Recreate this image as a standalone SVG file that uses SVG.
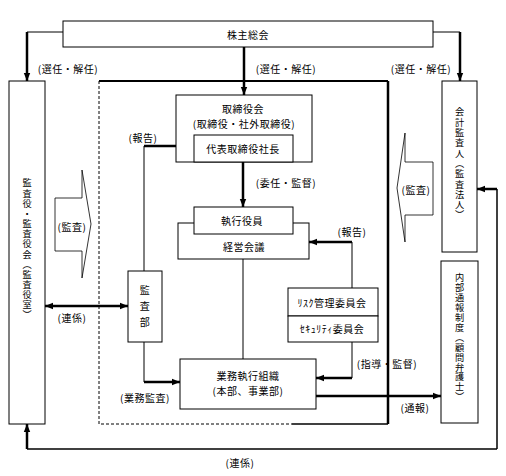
<svg xmlns="http://www.w3.org/2000/svg" width="506" height="476" viewBox="0 0 506 476">
<style>
text{font-family:"Noto Sans CJK JP","Noto Sans CJK SC",sans-serif;font-size:10px;fill:#000;text-anchor:middle;dominant-baseline:central;letter-spacing:0.5px}
.v{writing-mode:vertical-rl;text-orientation:upright;text-anchor:start;font-size:9.2px}
.box{fill:#fff;stroke:#000;stroke-width:1}
.thin{fill:none;stroke:#000;stroke-width:1}
.mid{fill:none;stroke:#000;stroke-width:1.5}
.thick{fill:none;stroke:#000;stroke-width:2.5}
.blk{fill:#fff;stroke:#000;stroke-width:0.8}
</style>
<defs>
<marker id="ah" markerUnits="userSpaceOnUse" markerWidth="8" markerHeight="8" viewBox="0 0 8 8" refX="8" refY="4" orient="auto-start-reverse"><path d="M0,0.8 L8,4 L0,7.2 z" fill="#000"/></marker>
</defs>
<rect width="506" height="476" fill="#fff"/>

<g id="frame">
<path class="thin" d="M99,81 V424 H292" stroke-dasharray="3,2"/>
<path class="mid" d="M292,424 H388"/>
<path fill="none" stroke="#000" stroke-width="2" d="M99,81 H388"/>
<path class="thick" d="M388,81 V424"/>
</g>

<g id="connectors">
<path class="thin" d="M63,32 H27"/>
<path class="thick" d="M27,32 V81" marker-end="url(#ah)"/>
<path class="thin" d="M433,32 H460"/>
<path class="thick" d="M460,32 V81" marker-end="url(#ah)"/>
<path class="thick" d="M244,47 V95" marker-end="url(#ah)"/>
<path class="thin" d="M144,271 V146"/>
<path class="thick" d="M144,146 H194" marker-end="url(#ah)"/>
<path class="thin" d="M144,342 V382"/>
<path class="thick" d="M144,382 H180" marker-end="url(#ah)"/>
<path class="thick" d="M243,162 V207" marker-end="url(#ah)"/>
<path class="thin" d="M243,259 V359"/>
<path class="thin" d="M352,288 V242"/>
<path class="thick" d="M352,242 H309" marker-end="url(#ah)"/>
<path class="thin" d="M352,342 V378"/>
<path class="thick" d="M352,378 H316" marker-end="url(#ah)"/>
<path class="thick" d="M316,396 H441" marker-end="url(#ah)"/>
<path class="mid" d="M497,449 V189"/>
<path class="thick" d="M497,189 H477" marker-end="url(#ah)"/>
<path class="mid" d="M497,449 H27"/>
<path class="thick" d="M27,449 V424" marker-end="url(#ah)"/>
<path class="thick" d="M45,306 H128" marker-start="url(#ah)" marker-end="url(#ah)"/>
</g>

<g id="shareholders">
<rect class="box" x="63" y="21" width="370" height="26"/>
<text x="248" y="34">株主総会</text>
</g>

<g id="auditors">
<rect class="box" x="9" y="81" width="36" height="343"/>
<text class="v" x="27" y="178.4" style="letter-spacing:0.95px">監査役・監査役会（監査役室）</text>
</g>

<g id="accounting-auditor">
<rect class="box" x="442" y="81" width="35" height="171"/>
<text class="v" x="459.5" y="107.4" style="letter-spacing:1.1px">会計監査人（監査法人）</text>
</g>

<g id="whistle">
<rect class="box" x="441" y="261" width="37" height="162"/>
<text class="v" x="459.5" y="273.4" style="letter-spacing:0.7px">内部通報制度（顧問弁護士）</text>
</g>

<g id="board">
<rect class="box" x="176" y="95" width="136" height="67"/>
<text x="243" y="108">取締役会</text>
<text x="244" y="123">(取締役・社外取締役)</text>
</g>

<g id="president">
<rect class="box" x="194" y="135" width="99" height="27"/>
<text x="243" y="148">代表取締役社長</text>
</g>

<g id="management-meeting">
<rect class="box" x="178" y="223" width="131" height="36"/>
<text x="244" y="246">経営会議</text>
</g>

<g id="executive-officers">
<rect class="box" x="194" y="207" width="99" height="27"/>
<text x="242" y="220">執行役員</text>
</g>

<g id="internal-audit">
<rect class="box" x="128" y="271" width="34" height="71"/>
<text x="145" y="289">監</text>
<text x="145" y="305">査</text>
<text x="145" y="321">部</text>
</g>

<g id="risk-committee">
<rect class="box" x="288" y="288" width="90" height="28"/>
<text x="332" y="302">ﾘｽｸ管理委員会</text>
</g>

<g id="security-committee">
<rect class="box" x="288" y="316" width="90" height="26"/>
<text x="332" y="328">ｾｷｭﾘﾃｨ委員会</text>
</g>

<g id="operations">
<rect class="box" x="180" y="359" width="136" height="50"/>
<text x="248" y="375">業務執行組織</text>
<text x="248" y="390">(本部、事業部)</text>
</g>

<g id="audit-arrow-left">
<polygon class="blk" points="55,198 82,198 82,170 91,224 82,278 82,251 55,251"/>
<text x="72" y="226">(監査)</text>
</g>

<g id="audit-arrow-right">
<polygon class="blk" points="433,162 405,162 405,133 397,188 405,242 405,215 433,215"/>
<text x="416" y="189">(監査)</text>
</g>

<g id="labels">
<text x="68" y="68">(選任・解任)</text>
<text x="286" y="68">(選任・解任)</text>
<text x="421" y="68">(選任・解任)</text>
<text x="143" y="137">(報告)</text>
<text x="286" y="182">(委任・監督)</text>
<text x="352" y="231">(報告)</text>
<text x="72" y="317">(連係)</text>
<text x="387" y="363">(指導・監督)</text>
<text x="145" y="397">(業務監査)</text>
<text x="415" y="407">(通報)</text>
<text x="240" y="462">(連係)</text>
</g>
</svg>
